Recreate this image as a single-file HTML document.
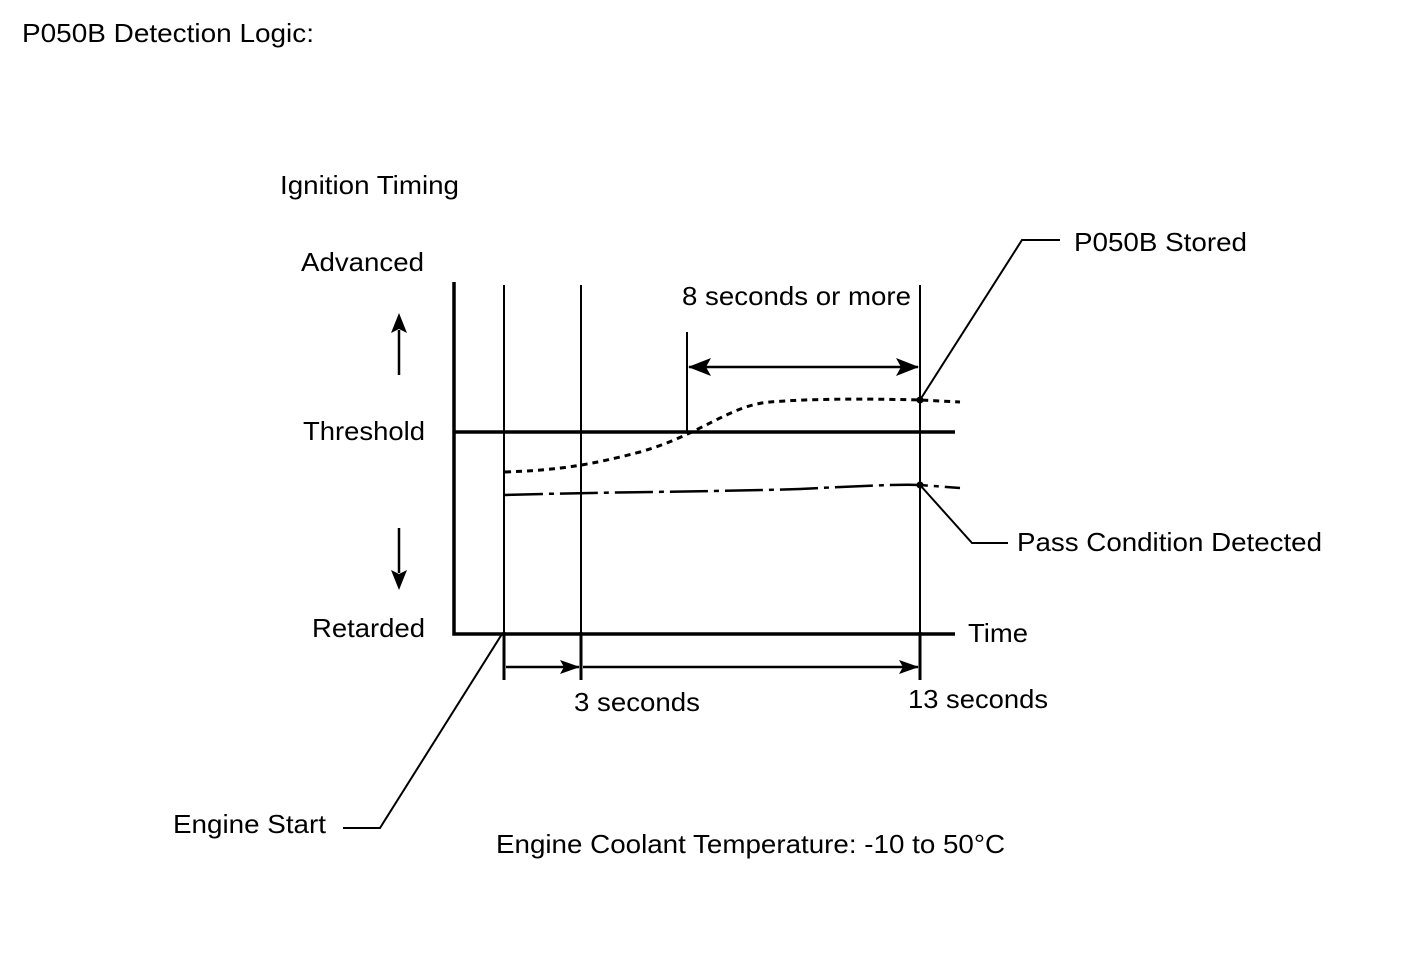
<!DOCTYPE html>
<html><head><style>body{margin:0;background:#fff}svg{display:block}text{font-family:"Liberation Sans",Arial,sans-serif;font-size:26px;fill:#000}</style></head><body>
<svg width="1424" height="959" viewBox="0 0 1424 959" xmlns="http://www.w3.org/2000/svg">
<text x="22" y="42" textLength="292" lengthAdjust="spacingAndGlyphs">P050B Detection Logic:</text>
<text x="280" y="194" textLength="179" lengthAdjust="spacingAndGlyphs">Ignition Timing</text>
<text x="301" y="271" textLength="123" lengthAdjust="spacingAndGlyphs">Advanced</text>
<text x="303" y="440" textLength="122" lengthAdjust="spacingAndGlyphs">Threshold</text>
<text x="312" y="637" textLength="113" lengthAdjust="spacingAndGlyphs">Retarded</text>
<text x="968" y="642" textLength="60" lengthAdjust="spacingAndGlyphs">Time</text>
<text x="682" y="305" textLength="229" lengthAdjust="spacingAndGlyphs">8 seconds or more</text>
<text x="1074" y="251" textLength="173" lengthAdjust="spacingAndGlyphs">P050B Stored</text>
<text x="1017" y="551" textLength="305" lengthAdjust="spacingAndGlyphs">Pass Condition Detected</text>
<text x="574" y="711" textLength="126" lengthAdjust="spacingAndGlyphs">3 seconds</text>
<text x="908" y="708" textLength="140" lengthAdjust="spacingAndGlyphs">13 seconds</text>
<text x="173" y="833" textLength="153" lengthAdjust="spacingAndGlyphs">Engine Start</text>
<text x="496" y="853" textLength="509" lengthAdjust="spacingAndGlyphs">Engine Coolant Temperature: -10 to 50°C</text>
<g stroke="#000" fill="none">
<path d="M454,282 V634 H955" stroke-width="3.5"/>
<path d="M454,432 H955" stroke-width="3.5"/>
<path d="M504,285 V680 M581,285 V680 M920,285 V680 M687,332 V432" stroke-width="2"/>
<path d="M504,632 V680 M581,632 V680 M920,632 V680" stroke-width="3"/>
<path d="M399,330 V375 M399,528 V573" stroke-width="2.5"/>
<path d="M689,367 H918" stroke-width="2.5"/>
<path d="M506,667 H579 M583,667 H918" stroke-width="2.5"/>
<path d="M505,472 C560,470 590,465 640,452 C700,435 730,405 770,402 C820,398 880,399 920,400 L960,402" stroke-width="3" stroke-dasharray="6,5"/>
<path d="M505,495 C600,492 700,492 800,489 C860,486 900,484 920,485 L960,488" stroke-width="2.5" stroke-dasharray="38,6,5,6"/>
<path d="M920,400 L1022,240 H1060" stroke-width="2"/>
<path d="M920,485 L972,543 H1008" stroke-width="2"/>
<path d="M502,634 L380,828 H343" stroke-width="2"/>
</g>
<g fill="#000">
<path d="M391,333 L399,313 L407,333 L399,329 Z"/>
<path d="M391,570 L399,590 L407,570 L399,574 Z"/>
<path d="M688,367 L711,358 L706,367 L711,376 Z"/>
<path d="M919,367 L896,358 L901,367 L896,376 Z"/>
<path d="M580,667 L560,660 L564,667 L560,674 Z"/>
<path d="M919,667 L899,660 L903,667 L899,674 Z"/>
<circle cx="920" cy="400" r="3.5"/><circle cx="920" cy="485" r="3.5"/>
</g>
</svg>
</body></html>
